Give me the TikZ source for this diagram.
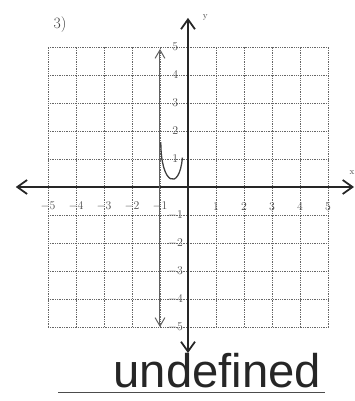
\documentclass[tikz,border=0pt]{standalone}
\usepackage{fontspec}
\newfontfamily\handfont{Liberation Sans}
\usetikzlibrary{arrows.meta,positioning}

\begin{document}
\begin{tikzpicture}[
  gridline/.style={densely dotted, gray!80!black, line width=0.8pt},
  axis/.style={{Straight Barb[length=3.5mm,width=5mm]}-{Straight Barb[length=3.5mm,width=5mm]}, line width=1.8pt, black!85},
  vline/.style={{Straight Barb[length=3mm,width=3.5mm]}-{Straight Barb[length=3mm,width=3.5mm]}, line width=1pt, gray!75!black},
  tick/.style={font=\fontsize{13}{13}\selectfont, text=black!70, inner sep=1pt}
]
\useasboundingbox (-6.714,-7.643) rectangle (5.964,6.679);

% grid
\foreach \i in {-5,...,5} {
  \draw[gridline] (\i,-5) -- (\i,5);
  \draw[gridline] (-5,\i) -- (5,\i);
}

% axes
\coordinate (xleft) at (-6.15,0);
\coordinate (xright) at (5.93,0);
\coordinate (ytop) at (0,6.04);
\coordinate (ybot) at (0,-5.93);
\draw[axis] (xleft) -- (xright);
\draw[axis] (ybot) -- (ytop);
\node[font=\small, text=black!70] (ylab) at (0.62,6.05) {y};
\node[font=\small, text=black!70] (xlab) at (5.86,0.5) {x};

% tick labels
\foreach \i in {-5,...,-1,1,2,...,5} {
  \node[tick] (xl\i) at (\i,-0.7) {$\i$};
  \node[tick] (yl\i) at (-0.45,\i) {$\i$};
}

% x = -1
\coordinate (vtop) at (-1,4.93);
\coordinate (vbot) at (-1,-5.0);
\draw[vline] (vbot) -- (vtop);

% U
\draw[line width=1.3pt, black!75] (-0.97,1.6) .. controls (-0.97,0.05) and (-0.3,-0.15) .. (-0.2,1.05);

% problem number and answer
\node[font=\fontsize{16}{16}\selectfont, text=black!75] (num) at (-4.57,5.79) {3)};
\node[font=\handfont\fontsize{48}{48}\selectfont, text=black!85, anchor=base] (answer) at (1.05,-7.15) {undefined};
\coordinate (lineleft) at (-4.64,-7.32);
\coordinate (lineright) at (4.89,-7.32);
\draw[line width=0.8pt, black!70] (lineleft) -- (lineright);

\end{tikzpicture}
\end{document}
